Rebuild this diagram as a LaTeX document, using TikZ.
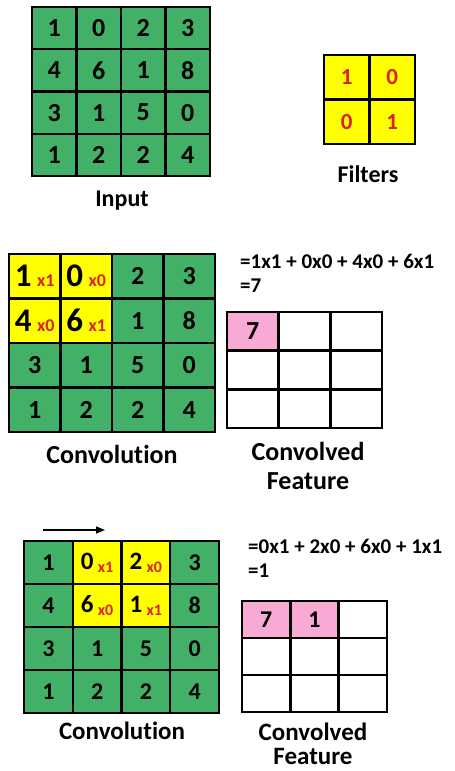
\documentclass[tikz,border=0pt]{standalone}
\usepackage{fontspec}
\setmainfont{Carlito}[Ligatures=CommonOff]
\usetikzlibrary{arrows.meta}

\definecolor{cellgreen}{RGB}{66,176,102}
\definecolor{cellyellow}{RGB}{255,255,0}
\definecolor{cellpink}{RGB}{249,170,212}
\definecolor{multred}{RGB}{222,32,40}
\newcommand{\fs}[1]{\fontsize{#1}{#1}\selectfont\bfseries}
\newcommand{\multtag}[2]{\textcolor{multred}{\fs{#1}#2}}

\tikzset{
  cell/.style={draw=black, line width=2.4pt, inner sep=0pt},
  green cell/.style={cell, fill=cellgreen, font=\fs{26}},
  win cell/.style={cell, fill=cellyellow, font=\fs{26}},
  filter cell/.style={cell, fill=cellyellow, text=multred, font=\fs{23}},
  out cell/.style={cell, fill=white, font=\fs{26}},
  done cell/.style={cell, fill=cellpink, font=\fs{26}},
  caption/.style={inner sep=0pt, font=\fs{24}},
  eqtext/.style={inner sep=0pt, anchor=west, font=\fs{21}},
}

\begin{document}
\begin{tikzpicture}[x=1pt, y=-1pt]
\useasboundingbox (0,0) rectangle (455,771);

% input
\foreach \vals [count=\r] in {{1,0,2,3},{4,6,1,8},{3,1,5,0},{1,2,2,4}}
  \foreach \v [count=\c] in \vals
    \node[green cell, minimum width=44.5, minimum height=42.25] (in-\r-\c)
      at ({32+44.5*(\c-0.5)},{7+42.25*(\r-0.5)}) {\v};
\node[caption] (in-lbl) at (122,201) {Input};

% filters
\foreach \vals [count=\r] in {{1,0},{0,1}}
  \foreach \v [count=\c] in \vals
    \node[filter cell, minimum width=45.5, minimum height=44.5] (flt-\r-\c)
      at ({324+45.5*(\c-0.5)},{55+44.5*(\r-0.5)}) {\v};
\node[caption] (flt-lbl) at (368,174) {Filters};

% first step
\foreach \vals [count=\r] in {{1,0,2,3},{4,6,1,8},{3,1,5,0},{1,2,2,4}}
  \foreach \v [count=\c] in \vals {
    \pgfmathtruncatemacro\inwin{(\r<3)&&(\c<3)}
    \ifnum\inwin=1
      \pgfmathtruncatemacro\k{\r==\c}
      \node[win cell, font=\fs{33}, minimum width=51.5, minimum height=44.5] (cv-\r-\c)
        at ({9+51.5*(\c-0.5)},{254+44.5*(\r-0.5)}) {\v\,\multtag{18}{x\k}};
    \else
      \node[green cell, minimum width=51.5, minimum height=44.5] (cv-\r-\c)
        at ({9+51.5*(\c-0.5)},{254+44.5*(\r-0.5)}) {\v};
    \fi
  }
\node[caption, font=\fs{26}] (cv-lbl) at (112,454) {Convolution};

\node[eqtext] (eq-a) at (240,261) {=1x1 + 0x0 + 4x0 + 6x1};
\node[eqtext] (res-a) at (240,286) {=7};

\foreach \r in {1,2,3}
  \foreach \c in {1,2,3}
    \node[out cell, minimum width=51.67, minimum height=38.67] (fa-\r-\c)
      at ({227+51.67*(\c-0.5)},{312+38.67*(\r-0.5)}) {};
\node[done cell, minimum width=51.67, minimum height=38.67] (fa-1-1) at (fa-1-1) {7};
\node[caption, font=\fs{26}] (fa-lbl) at (308,451) {Convolved};
\node[caption, font=\fs{26}] (fa-lbl2) at (308,481) {Feature};

% second step
\coordinate (slide-from) at (43,530);
\coordinate (slide-to) at (105,530);
\draw[line width=1.4pt, -{Triangle[length=9pt, width=7pt]}] (slide-from) -- (slide-to);

\foreach \vals [count=\r] in {{1,0,2,3},{4,6,1,8},{3,1,5,0},{1,2,2,4}}
  \foreach \v [count=\c] in \vals {
    \pgfmathtruncatemacro\inwin{(\r<3)&&(\c>1)&&(\c<4)}
    \ifnum\inwin=1
      \pgfmathtruncatemacro\k{\r==(\c-1)}
      \node[win cell, font=\fs{25}, minimum width=48.75, minimum height=43] (cw-\r-\c)
        at ({24+48.75*(\c-0.5)},{541+43*(\r-0.5)}) {\v\,\raisebox{-3pt}{\multtag{16}{x\k}}};
    \else
      \node[green cell, font=\fs{24}, minimum width=48.75, minimum height=43] (cw-\r-\c)
        at ({24+48.75*(\c-0.5)},{541+43*(\r-0.5)}) {\v};
    \fi
  }
\node[caption, font=\fs{25}] (cw-lbl) at (122,731) {Convolution};

\node[eqtext] (eq-b) at (248,546) {=0x1 + 2x0 + 6x0 + 1x1};
\node[eqtext] (res-b) at (248,571) {=1};

\foreach \r in {1,2,3}
  \foreach \c in {1,2,3}
    \node[out cell, minimum width=48.33, minimum height=37] (fb-\r-\c)
      at ({242+48.33*(\c-0.5)},{601+37*(\r-0.5)}) {};
\node[done cell, font=\fs{24}, minimum width=48.33, minimum height=37] (fb-1-1) at (fb-1-1) {7};
\node[done cell, font=\fs{24}, minimum width=48.33, minimum height=37] (fb-1-2) at (fb-1-2) {1};
\node[caption, font=\fs{25}] (fb-lbl) at (313,732) {Convolved};
\node[caption, font=\fs{25}] (fb-lbl2) at (313,756) {Feature};
\end{tikzpicture}
\end{document}
